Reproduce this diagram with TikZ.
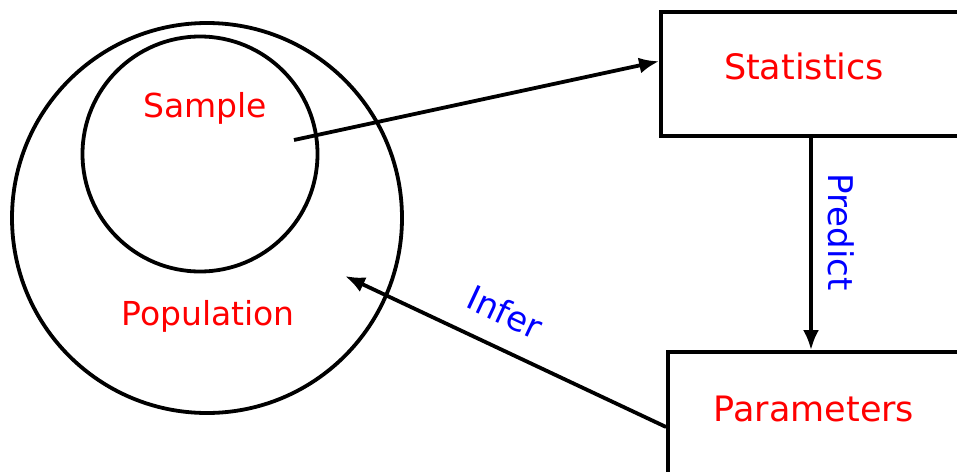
\documentclass[tikz,border=0pt]{standalone}
\usepackage{fontspec}
\setmainfont{DejaVu Sans}
\usetikzlibrary{arrows.meta,calc}
\begin{document}
\begin{tikzpicture}[x=1pt,y=-1pt,
  thick line/.style={line width=3.8pt},
  arr/.style={thick line,-{Latex[length=20pt,width=16pt]}},
  redtxt/.style={text=red,font=\fontsize{33}{36}\selectfont,inner sep=0pt},
  bluetxt/.style={text=blue,font=\fontsize{34}{38}\selectfont,inner sep=0pt},
  ring/.style={circle,draw,thick line,inner sep=0pt},
  boxnode/.style={rectangle,draw,thick line,inner sep=0pt}]
\useasboundingbox (0,0) rectangle (957,471);
\node[ring,minimum size=390pt] (pop) at (207,218) {};
\node[ring,minimum size=235pt] (samp) at (200,154) {};
\node[redtxt] (sampt) at (205,108) {Sample};
\node[redtxt] (popt) at (208,316) {Population};
\node[boxnode,minimum width=340pt,minimum height=124pt] (stat) at (831,74) {};
\node[boxnode,minimum width=340pt,minimum height=150pt] (par) at (838,427) {};
\node[redtxt,font=\fontsize{35}{38}\selectfont] (statt) at (804,66) {Statistics};
\node[redtxt,font=\fontsize{35}{38}\selectfont] (part) at (814,409) {Parameters};
\coordinate (s1) at (294,140);
\coordinate (p1) at (345,276);
\draw[arr] (s1) -- ($(stat.north west)!0.4!(stat.south west)$);
\draw[arr] (stat.south -| 811,0) -- (par.north -| 811,0);
\draw[arr] (par.west) -- (p1);
\node[bluetxt,rotate=-90] (pred) at (841,232) {Predict};
\node[bluetxt,rotate=-25] (inf) at (505,312) {Infer};
\end{tikzpicture}
\end{document}
